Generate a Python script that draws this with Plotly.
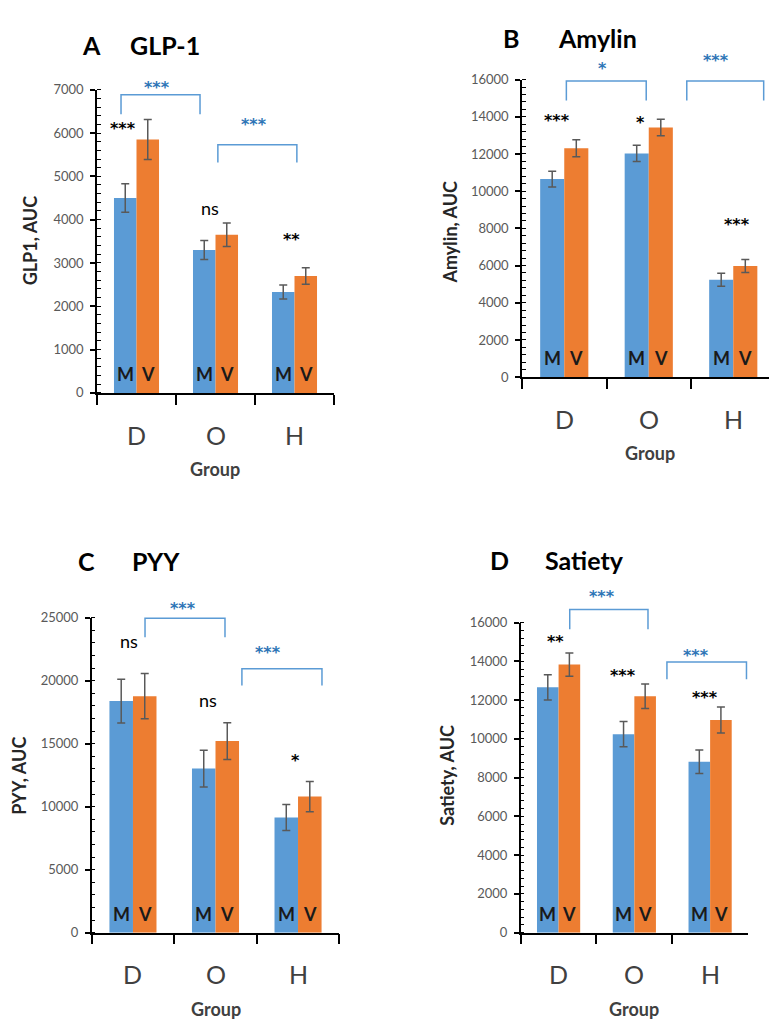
import plotly.graph_objects as go

# ---------------- data ----------------
groups = ["D", "O", "H"]

glp1_M = [4500, 3300, 2330]
glp1_M_err = [330, 220, 160]
glp1_V = [5850, 3650, 2700]
glp1_V_err = [460, 270, 190]

amylin_M = [10650, 12030, 5240]
amylin_M_err = [420, 440, 350]
amylin_V = [12310, 13420, 5980]
amylin_V_err = [460, 440, 350]

pyy_M = [18380, 13020, 9140]
pyy_M_err = [1740, 1460, 1040]
pyy_V = [18770, 15200, 10800]
pyy_V_err = [1800, 1460, 1200]

sat_M = [12660, 10240, 8820]
sat_M_err = [650, 650, 610]
sat_V = [13830, 12200, 10970]
sat_V_err = [600, 630, 670]

glp1_sig = ["***", "ns", "**"]
amylin_sig = ["***", "*", "***"]
pyy_sig = ["ns", "ns", "*"]
sat_sig = ["**", "***", "***"]

glp1_between = ["***", "***"]
amylin_between = ["*", "***"]
pyy_between = ["***", "***"]
sat_between = ["***", "***"]

# ---------------- layout helpers ----------------
W, H = 769, 1026
def px(x):
    return x / W
def py(y):
    return 1 - y / H

BLUE = "#5B9BD5"
ORANGE = "#ED7D31"
FONT = "Lato"
STARFONT = "DejaVu Sans"
BARGAP = 0.43
HALF = (1 - BARGAP) / 4  # centre offset of each of the two bars in a group

panels = [
    dict(letter="A", name="GLP-1", ytitle="GLP1, AUC",
         M=glp1_M, Me=glp1_M_err, V=glp1_V, Ve=glp1_V_err,
         sig=glp1_sig, between=glp1_between,
         xdom=(97, 334), ydom=(391, 83), yr=7000, dtick=1000, minor=200,
         xr=(-0.5, 2.5),
         sigpos=[(-0.17, 6200), (-0.07, 4270), (-0.044, 3640)],
         brackets=[(-0.196, 0.804, 6886, 6432, 0.26, 7136),
                   (1.03, 2.03, 5727, 5318, 1.487, 6295)],
         title_pos=(91.5, 164.5, 38), ytitle_pos=(30, 236),
         group_pos=(215, 468), catshift=42),
    dict(letter="B", name="Amylin", ytitle="Amylin, AUC",
         M=amylin_M, Me=amylin_M_err, V=amylin_V, Ve=amylin_V_err,
         sig=amylin_sig, between=amylin_between,
         xdom=(522, 769), ydom=(375, 72.7), yr=16000, dtick=2000, minor=400,
         xr=(-0.5, 2.423),
         sigpos=[(-0.085, 14020), (-0.10, 13900), (0.044, 8410)],
         brackets=[(0.025, 0.97, 15926, 14870, 0.447, 16810),
                   (1.45, 2.36, 15926, 14870, 1.79, 17250)],
         title_pos=(511, 597, 30), ytitle_pos=(450, 228),
         group_pos=(650, 452), catshift=42),
    dict(letter="C", name="PYY", ytitle="PYY, AUC",
         M=pyy_M, Me=pyy_M_err, V=pyy_V, Ve=pyy_V_err,
         sig=pyy_sig, between=pyy_between,
         xdom=(91.7, 339.3), ydom=(939.3, 619.3), yr=25000, dtick=5000, minor=1000,
         xr=(-0.5, 2.5),
         sigpos=[(-0.044, 23125), (-0.09, 18440), (-0.036, 14000)],
         brackets=[(0.146, 1.115, 24945, 23440, 0.61, 26060),
                   (1.32, 2.29, 20940, 19610, 1.64, 22520)],
         title_pos=(86, 156, 561.7), ytitle_pos=(19, 780),
         group_pos=(216, 1016.7), catshift=41),
    dict(letter="D", name="Satiety", ytitle="Satiety, AUC",
         M=sat_M, Me=sat_M_err, V=sat_V, Ve=sat_V_err,
         sig=sat_sig, between=sat_between,
         xdom=(520.7, 748), ydom=(939.3, 624.3), yr=16000, dtick=2000, minor=400,
         xr=(-0.5, 2.5),
         sigpos=[(-0.04, 15250), (-0.146, 13460), (-0.073, 12320)],
         brackets=[(0.147, 1.18, 16670, 15660, 0.577, 17570),
                   (1.43, 2.48, 13970, 13080, 1.81, 14530)],
         title_pos=(499.3, 584.3, 560.7), ytitle_pos=(447, 780),
         group_pos=(634.3, 1017), catshift=41),
]

fig = go.Figure()
annotations = []
shapes = []

for i, p in enumerate(panels):
    n = "" if i == 0 else str(i + 1)
    xa, ya = "x" + n, "y" + n
    ydomref = ya + " domain"
    err_style = dict(type="data", color="#595959", thickness=1.5, width=4)
    for vals, errs, col, lab, sgn in [(p["M"], p["Me"], BLUE, "M", -1),
                                       (p["V"], p["Ve"], ORANGE, "V", 1)]:
        fig.add_trace(go.Bar(
            x=groups, y=vals, xaxis=xa, yaxis=ya,
            marker=dict(color=col, line=dict(width=0)),
            error_y=dict(array=errs, **err_style),
            showlegend=False, hoverinfo="skip",
            offsetgroup=lab,
        ))
        for k in range(len(groups)):
            annotations.append(dict(
                x=k + sgn * HALF, y=0, xref=xa, yref=ydomref, text=lab,
                showarrow=False, xanchor="center", yanchor="bottom", yshift=6,
                font=dict(family=FONT, size=18, color="#1a1a1a", weight="bold")))
    # category names under the axis
    for k, g in enumerate(groups):
        annotations.append(dict(
            x=k, y=0, xref=xa, yref=ydomref, text=g, showarrow=False,
            xanchor="center", yanchor="middle", yshift=-p["catshift"],
            font=dict(family=FONT, size=25, color="#404040")))
    axkw = dict(
        xaxis=dict(domain=[px(p["xdom"][0]), px(p["xdom"][1])], anchor=ya,
                   type="category", range=list(p["xr"]), tickson="boundaries",
                   ticks="outside", ticklen=10, tickwidth=1.5, tickcolor="black",
                   showline=True, linecolor="black", linewidth=1.5, showgrid=False,
                   showticklabels=False, fixedrange=True),
        yaxis=dict(domain=[py(p["ydom"][0]), py(p["ydom"][1])], anchor=xa,
                   range=[0, p["yr"]], dtick=p["dtick"], tick0=0, tickformat="d",
                   ticks="outside", ticklen=5, tickwidth=1.5, tickcolor="black",
                   showline=True, linecolor="black", linewidth=1.5, showgrid=False,
                   zeroline=False, ticklabelstandoff=4,
                   tickfont=dict(family=FONT, size=13, color="#595959"),
                   minor=dict(dtick=p["minor"], tick0=0, ticks="inside", ticklen=4,
                              tickwidth=1, tickcolor="black", showgrid=False),
                   fixedrange=True),
    )
    fig.update_layout(**{"xaxis" + n: axkw["xaxis"], "yaxis" + n: axkw["yaxis"]})

    # within-group significance
    for k, (s, (dx, yv)) in enumerate(zip(p["sig"], p["sigpos"])):
        is_star = "*" in s
        annotations.append(dict(
            x=k + dx, y=yv / p["yr"], xref=xa, yref=ydomref, text=s, showarrow=False,
            xanchor="center", yanchor="middle", yshift=-4 if is_star else 0,
            font=dict(family=STARFONT if is_star else FONT, size=16 if is_star else 18,
                      color="black", weight="bold" if is_star else "normal")))
    # between-group brackets
    for s, (x0, x1, ytop, ybot, sx, sy) in zip(p["between"], p["brackets"]):
        shapes.append(dict(type="path", xref=xa, yref=ydomref,
                           path=f"M {x0},{ybot / p['yr']} L {x0},{ytop / p['yr']} L {x1},{ytop / p['yr']} L {x1},{ybot / p['yr']}",
                           line=dict(color=BLUE, width=1.5)))
        annotations.append(dict(
            x=sx, y=sy / p["yr"], xref=xa, yref=ydomref, text=s, showarrow=False,
            xanchor="center", yanchor="middle", yshift=-4,
            font=dict(family=STARFONT, size=16, color="#2E75B6", weight="bold")))
    # panel title
    lx, nx, ty = p["title_pos"]
    annotations.append(dict(x=px(lx), y=py(ty), xref="paper", yref="paper", text=p["letter"],
                            showarrow=False, xanchor="center", yanchor="middle",
                            font=dict(family=FONT, size=25, color="black", weight="bold")))
    annotations.append(dict(x=px(nx), y=py(ty), xref="paper", yref="paper", text=p["name"],
                            showarrow=False, xanchor="center", yanchor="middle",
                            font=dict(family=FONT, size=25, color="black", weight="bold")))
    # axis titles
    tx, tyy = p["ytitle_pos"]
    annotations.append(dict(x=px(tx), y=py(tyy), xref="paper", yref="paper", text=p["ytitle"],
                            showarrow=False, textangle=-90, xanchor="center", yanchor="middle",
                            font=dict(family=FONT, size=18, color="#262626", weight="bold")))
    gx, gy = p["group_pos"]
    annotations.append(dict(x=px(gx), y=py(gy), xref="paper", yref="paper", text="Group",
                            showarrow=False, xanchor="center", yanchor="middle",
                            font=dict(family=FONT, size=18, color="#404040", weight="bold")))

fig.update_layout(
    width=W, height=H, margin=dict(l=0, r=0, t=0, b=0),
    paper_bgcolor="white", plot_bgcolor="white",
    barmode="group", bargap=BARGAP, bargroupgap=0,
    annotations=annotations, shapes=shapes,
    font=dict(family=FONT),
)

fig.write_html("out.html", config={"displayModeBar": False},
               post_script="document.body.style.margin='0';document.body.style.overflow='hidden';")
